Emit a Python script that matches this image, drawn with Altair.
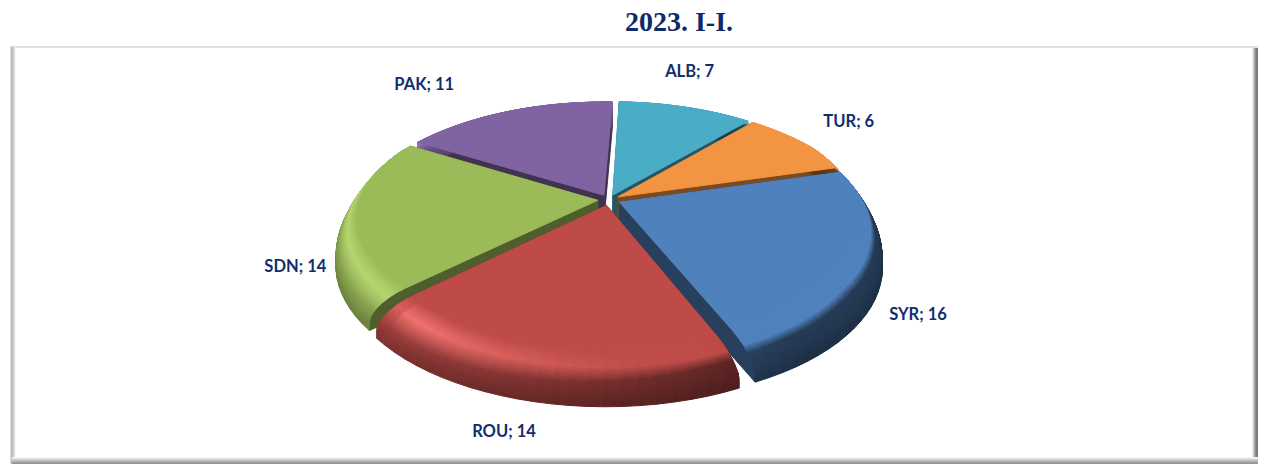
import math
import altair as alt

# --- data
categories = ["ALB", "TUR", "SYR", "ROU", "SDN", "PAK"]
values = [7, 6, 16, 14, 14, 11]
colors = ["#4BACC6", "#F39442", "#4F81BD", "#BE4B48", "#9BBB59", "#8064A2"]
title_text = "2023. I-I."

# --- layout (pixels of the photographed page; page margin is 8)
W, H = 1250, 457
M = 8
CX, CY = 609 - M, 200 - M
A, B, K = 122.0, 250.0, 0.283   # perspective disc
EXPLODE = 0.045
START = 2.0
WARP = 4.0                      # perspective skew of the angles, degrees
DEPTH = 26.0
BANDS = 32
# rim cross-section: share of the way from flat face to outer radius, drop in px
PROFILE_KEYS = [(0.00, 0), (0.23, 0.5), (0.46, 2), (0.69, 5), (0.85, 9),
                (0.96, 13), (1.0, 18), (1.0, 28)]
DRAW_ORDER = ["PAK", "ALB", "TUR", "SDN", "SYR", "ROU"]
LABEL_OFFSET = {"ALB": (8, -38), "TUR": (61, -19), "SYR": (51, 58),
                "ROU": (-24, 68), "SDN": (-61, 62), "PAK": (-97, -28)}


def clip01(x):
    return max(0.0, min(1.0, x))


def profile_at(t):
    pos = t * (len(PROFILE_KEYS) - 1)
    i = min(int(pos), len(PROFILE_KEYS) - 2)
    f = pos - i
    (a0, b0), (a1, b1) = PROFILE_KEYS[i], PROFILE_KEYS[i + 1]
    return a0 + (a1 - a0) * f, (b0 + (b1 - b0) * f) * DEPTH / 28.0


PROFILE = [profile_at(j / BANDS) for j in range(BANDS + 1)]


def flat_radius(deg):
    return 0.87 + 0.13 * clip01((math.cos(math.radians(deg)) + 0.6) / 1.1)


def project(r, deg, mid=None, shift=0.0, warp=True):
    if warp:
        deg = deg + WARP * math.sin(math.radians(deg))
    t = math.radians(deg)
    u, v = r * math.sin(t), -r * math.cos(t)
    if mid is not None:
        m = math.radians(mid)
        u += EXPLODE * math.sin(m)
        v -= EXPLODE * math.cos(m)
    d = 1 - K * v
    return [CX + B * u / d, CY + A * v / d + shift]


def hex2rgb(c):
    return [int(c[i:i + 2], 16) for i in (1, 3, 5)]


def rgb2hex(c):
    return "#" + "".join(f"{max(0, min(255, round(x))):02x}" for x in c)


def mix(a, b, t):
    return [x + (y - x) * t for x, y in zip(a, b)]


def rim_color(flat, deg, t):
    rgb = hex2rgb(flat)
    h = clip01((deg - 170) / 50) ** 1.2
    if deg > 226:
        h *= 0.55
    w = 0.42 + 0.38 * clip01((deg - 145) / 90)
    bright = mix([x * 1.25 for x in rgb], [255, 255, 255], 0.12)
    light = mix(rgb, bright, h)
    top = [x * w * 1.08 for x in rgb]
    bot = [x * w * 0.85 for x in rgb]
    split = 0.42 + 0.20 * clip01((deg - 150) / 60)
    if t < 0.3:
        out = mix(rgb, light, t / 0.3)
    elif t < split:
        out = mix(light, top, (t - 0.3) / (split - 0.3))
    else:
        out = mix(top, bot, (t - split) / (1 - split))
    return rgb2hex(out)


def feature(points, color):
    ring = [[round(p[0], 2), round(p[1], 2)] for p in points + [points[0]]]
    return {"type": "Feature",
            "geometry": {"type": "Polygon", "coordinates": [ring]},
            "properties": {"fill": color}}


def rim_radius(share, deg):
    fr = flat_radius(deg)
    return fr + (1 - fr) * share


# --- angles from the values
total = sum(values)
spans = {}
a0 = START
for cat, val in zip(categories, values):
    a1 = a0 + val / total * 360
    spans[cat] = (a0, a1)
    a0 = a1

features = []
for cat in DRAW_ORDER:
    i = categories.index(cat)
    flat = colors[i]
    s, e = spans[cat]
    mid = (s + e) / 2
    dark = rgb2hex([x * 0.5 for x in hex2rgb(flat)])
    # radial walls
    for edge in (s, e):
        outline = [project(0, edge, mid)]
        outline += [project(rim_radius(p, edge), edge, mid, d) for p, d in PROFILE]
        outline += [project(0, edge, mid, DEPTH)]
        features.append(feature(outline, dark))
    # rounded rim, cut into short sectors so the light can vary round the disc
    steps = max(2, int((e - s) / 3))
    for b in range(len(PROFILE) - 1, 0, -1):
        (p0, s0), (p1, s1) = PROFILE[b - 1], PROFILE[b]
        t = (b - 0.5) / (len(PROFILE) - 1)
        for j in range(steps):
            d0 = s + (e - s) * j / steps
            d1 = s + (e - s) * (j + 1) / steps
            dm = (d0 + d1) / 2
            features.append(feature([
                project(rim_radius(p0, d0), d0, mid, s0), project(rim_radius(p0, d1), d1, mid, s0),
                project(rim_radius(p1, d1), d1, mid, s1), project(rim_radius(p1, d0), d0, mid, s1)],
                rim_color(flat, dm, t)))
    # flat top face
    n = int(e - s) + 1
    pts = [project(0, s, mid)]
    for j in range(n + 1):
        dg = s + (e - s) * j / n
        pts.append(project(flat_radius(dg), dg, mid))
    features.append(feature(pts, flat))

pie = alt.Chart(alt.Data(values=features)).mark_geoshape(strokeWidth=1.0).encode(
    fill=alt.Color("properties.fill:N", scale=None),
    stroke=alt.Color("properties.fill:N", scale=None),
).project(type="identity", scale=1, translate=[0, 0])

# --- labels
rows = []
for cat, val in zip(categories, values):
    s, e = spans[cat]
    x, y = project(1.0, (s + e) / 2 + 1.0, warp=False)
    dx, dy = LABEL_OFFSET[cat]
    rows.append({"text": f"{cat}; {val}", "x": x + dx, "y": y + dy})

x_enc = alt.X("x:Q", scale=alt.Scale(domain=[0, W], range=[0, W]), axis=None)
y_enc = alt.Y("y:Q", scale=alt.Scale(domain=[0, H], range=[0, H]), axis=None)

labels = alt.Chart(alt.Data(values=rows)).mark_text(
    font="Lato", fontWeight="bold", fontSize=16.5, color="#0F2E6E"
).encode(x=x_enc, y=y_enc, text="text:N")

title = alt.Chart(alt.Data(values=[{"text": title_text, "x": 679 - M, "y": 23 - M}])).mark_text(
    font="Liberation Serif", fontWeight="bold", fontSize=28, color="#0F2A66"
).encode(x=x_enc, y=y_enc, text="text:N")


# --- frame
def band(x0, x1, y0, y1, stops, horizontal):
    grad = alt.Gradient(gradient="linear",
                        stops=[alt.GradientStop(offset=o, color=c) for o, c in stops],
                        x1=0, y1=0, x2=1 if horizontal else 0, y2=0 if horizontal else 1)
    return alt.Chart(alt.Data(values=[{"a": 1}])).mark_rect(fill=grad).encode(
        x=alt.value(x0 - M), x2=alt.value(x1 - M), y=alt.value(y0 - M), y2=alt.value(y1 - M))


frame = [
    band(10, 1258, 46, 48, [(0, "#d8d8d8"), (1, "#e8e8e8")], False),
    band(10, 16, 47, 464, [(0, "#e4e4e4"), (0.35, "#b4b4b4"), (1, "#ffffff")], True),
    band(1252, 1258, 48, 464, [(0, "#ffffff"), (0.6, "#8a8a8a"), (1, "#707070")], True),
    band(12, 1258, 457, 464, [(0, "#ffffff"), (0.7, "#a8a8a8"), (1, "#8c8c8c")], False),
]

chart = alt.layer(*frame, pie, labels, title).properties(
    width=W, height=H, padding=0,
    autosize=alt.AutoSizeParams(type="none"),
    background="white",
).configure_view(stroke=None)

chart.save("out.html", embed_options={"renderer": "svg", "actions": False})
